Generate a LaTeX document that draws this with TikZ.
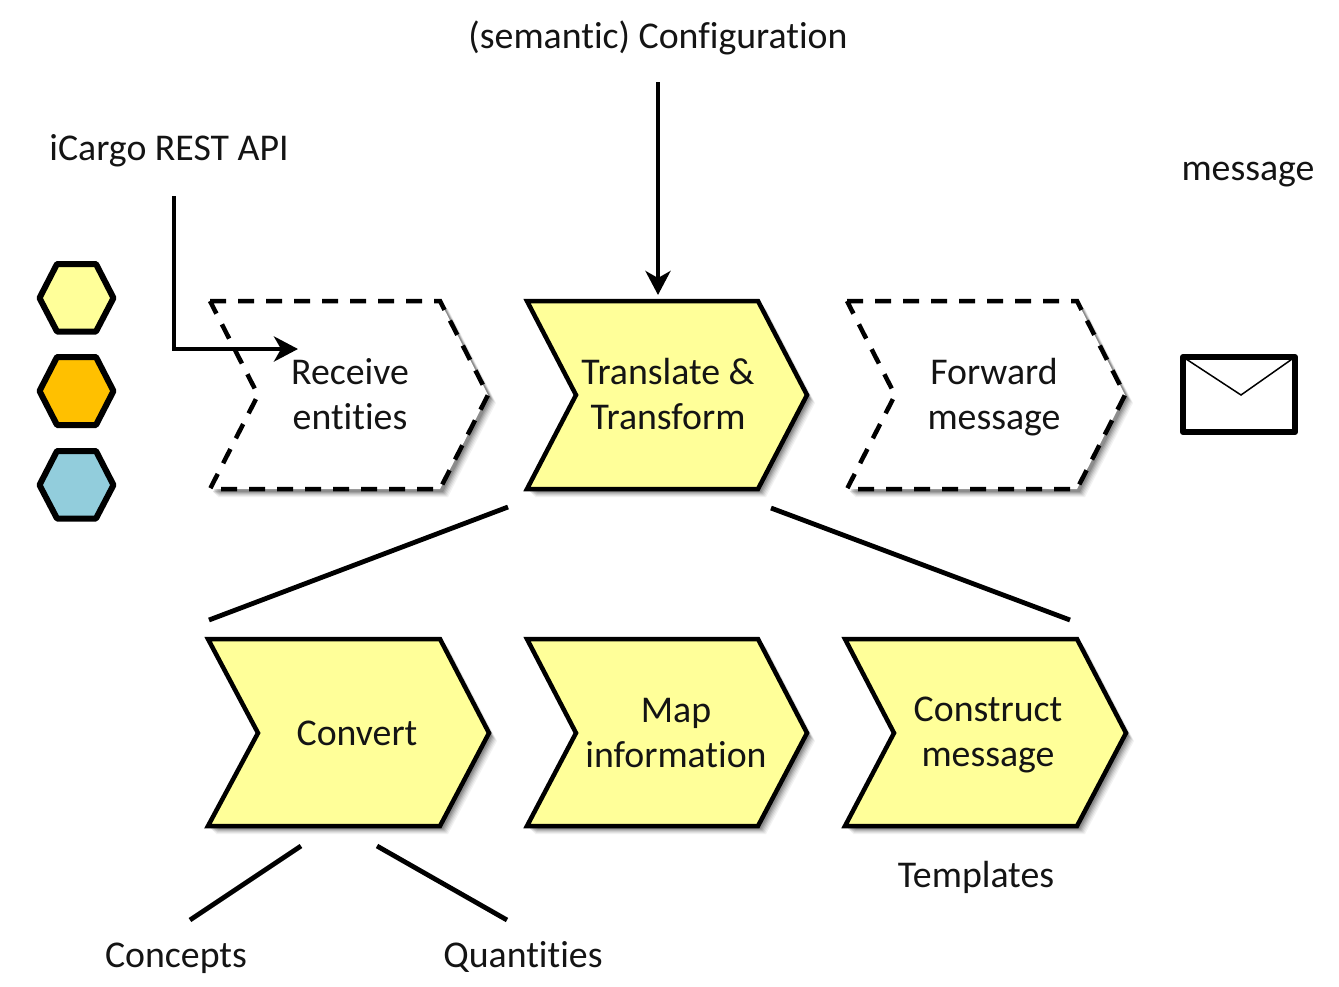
\documentclass[tikz,border=0pt]{standalone}
\usepackage{fontspec}
\setmainfont[Ligatures=NoCommon]{Carlito}
\usetikzlibrary{arrows.meta}
\definecolor{chevyellow}{HTML}{FFFF99}
\definecolor{hexorange}{HTML}{FFC000}
\definecolor{hexblue}{HTML}{92CDDC}
\tikzset{
  label text/.style={font=\fontsize{37.8}{45}\selectfont,align=center,inner sep=0pt,text=black!92},
  solid chev/.style={draw=black,line width=4.5pt,miter limit=10,fill=chevyellow},
  dashed chev/.style={draw=black,line width=4.5pt,fill=white,dash pattern=on 16pt off 12pt},
  hexa/.style={draw=black,line width=6pt,line join=round},
  heavy/.style={draw=black,line width=4.8pt},
  heavy arrow/.style={heavy,-{Stealth[length=24pt,width=25pt,inset=7pt]}},
}
% x-left, x-right, x-tip, x-notch, y-top, y-mid, y-bottom
\newcommand{\chevpath}[7]{(#1,#5) -- (#2,#5) -- (#3,#6) -- (#2,#7) -- (#1,#7) -- (#4,#6) -- cycle}
\newcommand{\chevshadow}[7]{%
  \foreach \d/\o in {8/0.05,7/0.06,6/0.08,5/0.10,4/0.12,3/0.14}{
    \fill[black,opacity=\o,xshift=\d pt,yshift=-\d pt] \chevpath{#1}{#2}{#3}{#4}{#5}{#6}{#7};
  }%
}
\begin{document}
\begin{tikzpicture}[x=1pt,y=-1pt]
\useasboundingbox[fill=white] (0,0) rectangle (1339,986);

% chevrons of the upper row
\chevshadow{210}{440}{488}{258}{301}{395}{489}
\draw[dashed chev] \chevpath{210}{440}{488}{258}{301}{395}{489};
\chevshadow{527}{758}{807}{576}{301}{395}{489}
\draw[solid chev] \chevpath{527}{758}{807}{576}{301}{395}{489};
\chevshadow{847}{1077}{1125}{895}{301}{395}{489}
\draw[dashed chev] \chevpath{847}{1077}{1125}{895}{301}{395}{489};

% chevrons of the lower row
\chevshadow{208}{440}{489}{258}{639}{733}{826}
\draw[solid chev] \chevpath{208}{440}{489}{258}{639}{733}{826};
\chevshadow{527}{758}{807}{576}{639}{733}{826}
\draw[solid chev] \chevpath{527}{758}{807}{576}{639}{733}{826};
\chevshadow{845}{1077}{1126}{894}{639}{733}{826}
\draw[solid chev] \chevpath{845}{1077}{1126}{894}{639}{733}{826};

% hexagons
\draw[hexa,fill=chevyellow] (39.5,298) -- (57,264) -- (96,264) -- (113.5,298) -- (96,331.5) -- (57,331.5) -- cycle;
\draw[hexa,fill=hexorange] (39.5,391) -- (57,357) -- (96,357) -- (113.5,391) -- (96,425) -- (57,425) -- cycle;
\draw[hexa,fill=hexblue] (39.5,485) -- (57,451) -- (96,451) -- (113.5,485) -- (96,518.5) -- (57,518.5) -- cycle;

% envelope
\draw[black,line width=1.5pt] (1183,357) -- (1241,395) -- (1295,357);
\draw[black,line width=6pt,line join=round] (1183,357) rectangle (1295,432);

% texts
\node[label text] (cfg) at (658,38) {(semantic) Configuration};
\node[label text] (api) at (169,151) {iCargo REST API};
\node[label text] (msg) at (1248,175) {message};
\node[label text] (receive) at (350,394) {Receive\\entities};
\node[label text] (translate) at (668,394) {Translate \&\\Transform};
\node[label text] (forward) at (994,397) {Forward\\message};
\node[label text] (convert) at (357,733) {Convert};
\node[label text] (map) at (676,733) {Map\\information};
\node[label text] (construct) at (988,735) {Construct\\message};
\node[label text] (templates) at (976,877) {Templates};
\node[label text] (concepts) at (176,958) {Concepts};
\node[label text] (quantities) at (523,957) {Quantities};

% connector ends
\coordinate (apiS) at (174,196);
\coordinate (apiC) at (174,349);
\coordinate (apiE) at (298,349);
\coordinate (cfgS) at (658,82);
\coordinate (cfgE) at (658,295);
\coordinate (transL) at (508,507);
\coordinate (convT) at (209,620);
\coordinate (transR) at (771,508);
\coordinate (consT) at (1070,620);
\coordinate (convL) at (301,846);
\coordinate (concT) at (190,920);
\coordinate (convR) at (377,846);
\coordinate (quanT) at (507,920);

% connectors
\draw[heavy arrow] (apiS) -- (apiC) -- (apiE);
\draw[heavy arrow] (cfgS) -- (cfgE);
\draw[heavy] (transL) -- (convT);
\draw[heavy] (transR) -- (consT);
\draw[heavy] (convL) -- (concT);
\draw[heavy] (convR) -- (quanT);
\end{tikzpicture}
\end{document}
